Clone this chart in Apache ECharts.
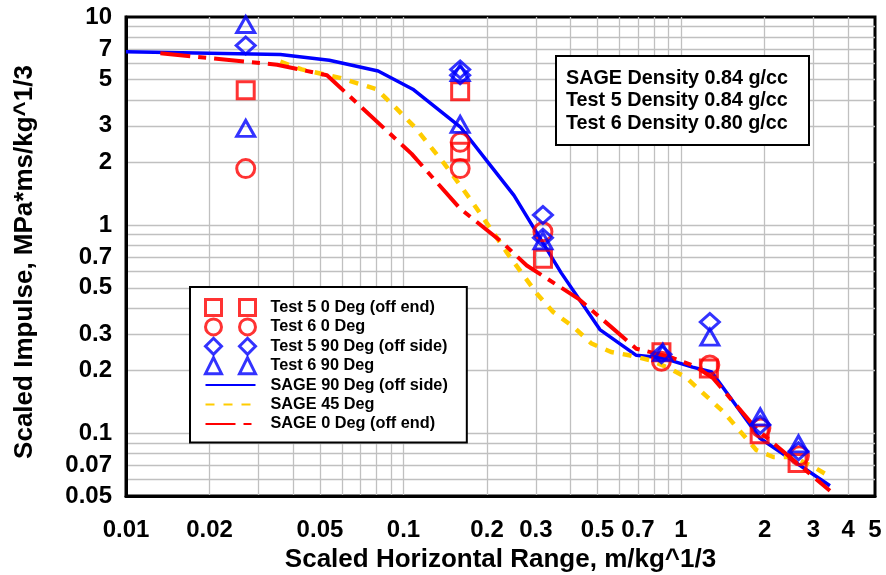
<!DOCTYPE html>
<html>
<head>
<meta charset="utf-8">
<script src="https://cdn.jsdelivr.net/npm/echarts@6/dist/echarts.min.js"></script>
<style>
  html, body { margin: 0; padding: 0; background: #fff; }
  #chart { width: 886px; height: 575px; }
</style>
</head>
<body>
<div id="chart"></div>
<script>
// tick labels and gridlines (log axes)
const xLabelValues = [0.01, 0.02, 0.05, 0.1, 0.2, 0.3, 0.5, 0.7, 1, 2, 3, 4, 5]
const yLabelValues = [0.05, 0.07, 0.1, 0.2, 0.3, 0.5, 0.7, 1, 2, 3, 5, 7, 10]
const xGridValues = [0.02, 0.03, 0.04, 0.05, 0.06, 0.07, 0.08, 0.09,
  0.1, 0.2, 0.3, 0.4, 0.5, 0.6, 0.7, 0.8, 0.9, 1, 2, 3, 4]
const yGridValues = [0.06, 0.07, 0.08, 0.09, 0.1, 0.2, 0.3, 0.4, 0.5, 0.6, 0.7, 0.8, 0.9,
  1, 2, 3, 4, 5, 6, 7, 8, 9]

// test data  [range, impulse]
const test5Deg0 = [[0.027, 4.45], [0.16, 4.4], [0.16, 2.25], [0.318, 0.69], [0.85, 0.245],
  [1.26, 0.205], [1.92, 0.099], [2.63, 0.072]]
const test6Deg0 = [[0.027, 1.87], [0.16, 2.5], [0.16, 1.87], [0.318, 0.93], [0.85, 0.222],
  [1.27, 0.213], [1.94, 0.106], [2.67, 0.078]]
const test5Deg90 = [[0.027, 7.3], [0.16, 5.6], [0.16, 5.25], [0.318, 1.12], [0.318, 0.87],
  [0.85, 0.24], [1.27, 0.343], [1.93, 0.11], [2.65, 0.082]]
const test6Deg90 = [[0.027, 9.2], [0.027, 2.92], [0.16, 5.4], [0.16, 3.05], [0.318, 0.84],
  [0.86, 0.245], [1.27, 0.29], [1.93, 0.12], [2.65, 0.089]]

// SAGE curves
const sage90 = [[0.01, 6.8], [0.036, 6.6], [0.054, 6.2], [0.081, 5.5], [0.108, 4.5], [0.16, 2.97],
  [0.21, 1.87], [0.25, 1.39], [0.37, 0.59], [0.51, 0.315], [0.69, 0.237], [0.85, 0.231],
  [1.1, 0.208], [1.29, 0.197], [1.92, 0.095], [3.44, 0.056]]
const sage45 = [[0.036, 6.1], [0.043, 5.6], [0.059, 5.1], [0.08, 4.5], [0.095, 3.6], [0.11, 2.95],
  [0.14, 1.98], [0.175, 1.32], [0.239, 0.72], [0.302, 0.47], [0.346, 0.383], [0.41, 0.324],
  [0.476, 0.27], [0.56, 0.246], [0.65, 0.237], [0.78, 0.224], [0.91, 0.205], [1.04, 0.186],
  [1.42, 0.127], [1.87, 0.083], [2.15, 0.077], [2.54, 0.077], [3.0, 0.069], [3.44, 0.062]]
const sage0 = [[0.0133, 6.7], [0.035, 5.9], [0.053, 5.25], [0.107, 2.2], [0.16, 1.2], [0.226, 0.83],
  [0.278, 0.64], [0.43, 0.44], [0.69, 0.255], [0.91, 0.233], [1.12, 0.21], [1.3, 0.185],
  [1.87, 0.105], [3.44, 0.053]]

const FONT = '"Liberation Sans", Arial, sans-serif'
const RED = '#ff0000'
const BLUE = '#0000ff'
const GOLD = '#ffcc00'

const fmt = v => String(parseFloat(Number(v).toPrecision(4)))

const hollow = color => ({ color: 'rgba(0,0,0,0)', borderColor: color, borderWidth: 3 })
// hides the little circle echarts puts in the middle of a line legend icon
const noDot = { color: 'rgba(0,0,0,0)', borderColor: 'rgba(0,0,0,0)', borderWidth: 0, opacity: 0 }

// two markers per legend row, like the original sheet
const legendIcons = {
  square: 'path://M0,0H16V16H0Z M34,0H50V16H34Z',
  circle: 'path://M0,8A8,8,0,1,1,16,8A8,8,0,1,1,0,8Z M34,8A8,8,0,1,1,50,8A8,8,0,1,1,34,8Z',
  diamond: 'path://M8,0L16,8L8,16L0,8Z M42,0L50,8L42,16L34,8Z',
  triangle: 'path://M8,0L16,16H0Z M42,0L50,16H34Z'
}

const scatter = (name, data, symbol, size, color) => ({
  name, type: 'scatter', data, symbol, symbolSize: size,
  itemStyle: hollow(color), z: 4
})

const line = (name, data, color, width, type) => ({
  name, type: 'line', data, symbol: 'none', showSymbol: false,
  lineStyle: { color, width, type, cap: 'butt' }, itemStyle: { color }, z: 3
})

const chart = echarts.init(document.getElementById('chart'))

const option = {
  animation: false,
  backgroundColor: '#fff',
  textStyle: { fontFamily: FONT },
  grid: {
    left: 126, top: 17, width: 749, height: 479,
    show: true, borderColor: '#000', borderWidth: 3, backgroundColor: 'transparent',
    outerBoundsMode: 'none', containLabel: false
  },
  title: {
    text: 'SAGE Density 0.84 g/cc\nTest 5 Density 0.84 g/cc\nTest 6 Density 0.80 g/cc',
    left: 556, top: 56,
    padding: [11, 21, 11, 10],
    backgroundColor: '#fff', borderColor: '#000', borderWidth: 2,
    textStyle: { fontFamily: FONT, fontSize: 19.8, fontWeight: 'bold', color: '#000', lineHeight: 22.5 }
  },
  legend: {
    orient: 'vertical', left: 190, top: 287,
    padding: [11, 19, 9, 14],
    itemWidth: 50, itemHeight: 16, itemGap: 0.4,
    backgroundColor: '#fff', borderColor: '#000', borderWidth: 2,
    textStyle: { fontFamily: FONT, fontSize: 16.3, fontWeight: 'bold', color: '#000', lineHeight: 19, padding: [0, 0, 0, 10] },
    data: [
      { name: 'Test 5 0 Deg (off end)', icon: legendIcons.square, itemStyle: hollow(RED) },
      { name: 'Test 6 0 Deg', icon: legendIcons.circle, itemStyle: hollow(RED) },
      { name: 'Test 5 90 Deg (off side)', icon: legendIcons.diamond, itemStyle: hollow(BLUE) },
      { name: 'Test 6 90 Deg', icon: legendIcons.triangle, itemStyle: hollow(BLUE) },
      { name: 'SAGE 90 Deg (off side)', itemStyle: noDot },
      { name: 'SAGE 45 Deg', itemStyle: noDot },
      { name: 'SAGE 0 Deg (off end)', itemStyle: noDot }
    ]
  },
  xAxis: {
    type: 'log', logBase: 10, min: 0.01, max: 5,
    name: 'Scaled Horizontal Range, m/kg^1/3',
    nameLocation: 'middle', nameGap: 49,
    nameTextStyle: { fontFamily: FONT, fontSize: 26, fontWeight: 'bold', color: '#000' },
    axisLine: { show: true, onZero: false, lineStyle: { color: '#000', width: 3 } },
    axisTick: { show: false, customValues: xGridValues },
    axisLabel: {
      customValues: xLabelValues, formatter: fmt, hideOverlap: false,
      fontFamily: FONT, fontSize: 24, fontWeight: 'bold', color: '#000', margin: 22
    },
    splitLine: { show: true, lineStyle: { color: '#c0c0c0', width: 1.3 } }
  },
  yAxis: {
    type: 'log', logBase: 10, min: 0.05, max: 10,
    name: 'Scaled Impulse, MPa*ms/kg^1/3',
    nameLocation: 'middle', nameGap: 88,
    nameTextStyle: { fontFamily: FONT, fontSize: 26, fontWeight: 'bold', color: '#000', padding: [0, 11, 0, 0] },
    axisLine: { show: true, onZero: false, lineStyle: { color: '#000', width: 3 } },
    axisTick: { show: false, customValues: yGridValues },
    axisLabel: {
      customValues: yLabelValues, formatter: fmt, hideOverlap: false,
      fontFamily: FONT, fontSize: 24, fontWeight: 'bold', color: '#000', margin: 14
    },
    splitLine: { show: true, lineStyle: { color: '#c0c0c0', width: 1.3 } }
  },
  series: [
    line('SAGE 90 Deg (off side)', sage90, BLUE, 3.5, 'solid'),
    line('SAGE 45 Deg', sage45, GOLD, 4.5, [9, 9]),
    line('SAGE 0 Deg (off end)', sage0, RED, 4, [30, 8, 8, 8]),
    scatter('Test 5 0 Deg (off end)', test5Deg0, 'rect', 17, RED),
    scatter('Test 6 0 Deg', test6Deg0, 'circle', 18, RED),
    scatter('Test 5 90 Deg (off side)', test5Deg90, 'diamond', [19, 17], BLUE),
    scatter('Test 6 90 Deg', test6Deg90, 'triangle', [18, 16], BLUE)
  ]
}

chart.setOption(option)
</script>
</body>
</html>
